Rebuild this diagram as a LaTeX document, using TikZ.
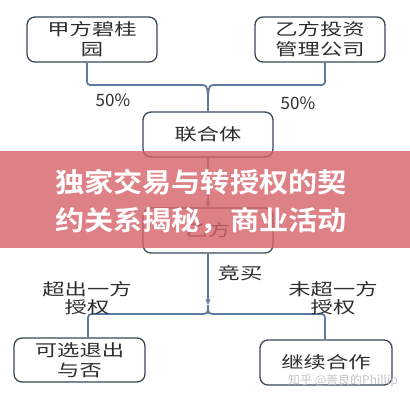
\documentclass[tikz,border=0pt]{standalone}
\usepackage{fontspec}
\setmainfont{Noto Sans CJK SC}
\newfontfamily\boxfont[FakeStretch=1.35]{Noto Sans CJK SC}
\newfontfamily\bannerfont[FakeStretch=1.08]{Noto Sans CJK SC Bold}
\usetikzlibrary{arrows.meta}
\definecolor{boxc}{RGB}{58,72,90}
\definecolor{linkc}{RGB}{92,124,163}
\definecolor{txt}{RGB}{45,45,45}
\definecolor{bandc}{RGB}{214,98,106}
\tikzset{
  box/.style={draw=boxc, line width=1.3pt, rounded corners=8pt, fill=white, text=txt,
    font=\boxfont\fontsize{16.5}{20}\selectfont, align=center, inner sep=0pt,
    minimum width=130pt, minimum height=45pt},
  link/.style={draw=linkc, line width=1.8pt},
  lab/.style={text=txt, font=\boxfont\fontsize{16.5}{18}\selectfont, align=center, inner sep=0pt},
  pct/.style={text=txt, font=\fontsize{17}{20}\selectfont, inner sep=0pt},
  bannertext/.style={text=white, font=\bannerfont\fontsize{27}{39}\selectfont, align=left, inner sep=0pt}
}
\begin{document}
\begin{tikzpicture}[x=1pt,y=-1pt]
\useasboundingbox (0,0) rectangle (410,400);
\fill[white] (0,0) rectangle (410,400);

\node[box] (A) at (92,39.5) {甲方碧桂\\园};
\node[box] (B) at (320,39.5) {乙方投资\\管理公司};
\node[box] (U) at (208,134.5) {联合体};
\node[box] (Y) at (208,230.5) {乙方};
\node[box, minimum width=131pt, minimum height=44pt] (C) at (79.5,360) {可选退出\\与否};
\node[box, minimum width=132pt] (D) at (326,362.5) {继续合作};

\coordinate (m1) at (208,96);
\coordinate (m2) at (208,305);

\draw[link] ([xshift=-5pt]A.south) -- (87,78) .. controls (87,85) .. (94,85) -- (199,85) .. controls (207,85) .. (m1) -- (U.north);
\draw[link] ([xshift=5pt]B.south) -- (325,78) .. controls (325,85) .. (318,85) -- (217,85) .. controls (209,85) .. (m1);

\draw[link, -{Stealth[length=6pt,width=5pt]}] (U.south) -- (Y.north);
\draw[link, -{Stealth[length=6pt,width=5pt]}] (Y.south) -- (m2);
\draw[link] (m2) .. controls (208,314) .. (199,314) -- (96,314) .. controls (88,314) .. (88,322) -- (C.north -| 88,0);
\draw[link] (m2) .. controls (208,314) .. (217,314) -- (318,314) .. controls (325,314) .. (325,322) -- (D.north -| 325,0);

\node[pct] (p1) at (113,100) {50\%};
\node[pct] (p2) at (298,103) {50\%};
\node[lab] (l1) at (240,273) {竞买};
\node[lab] (l2) at (87,298) {超出一方\\授权};
\node[lab] (l3) at (333,298) {未超一方\\授权};

\fill[bandc, opacity=0.8] (0,151) rectangle (410,248);
\node[bannertext, anchor=west] (t1) at (55,182) {独家交易与转授权的契};
\node[bannertext, anchor=west] (t2) at (55,221) {约关系揭秘，商业活动};

\node[text=gray!45, font=\fontsize{12}{14}\selectfont, inner sep=0pt] (wm) at (343,381) {知乎 @善良的Phillip};
\end{tikzpicture}
\end{document}
